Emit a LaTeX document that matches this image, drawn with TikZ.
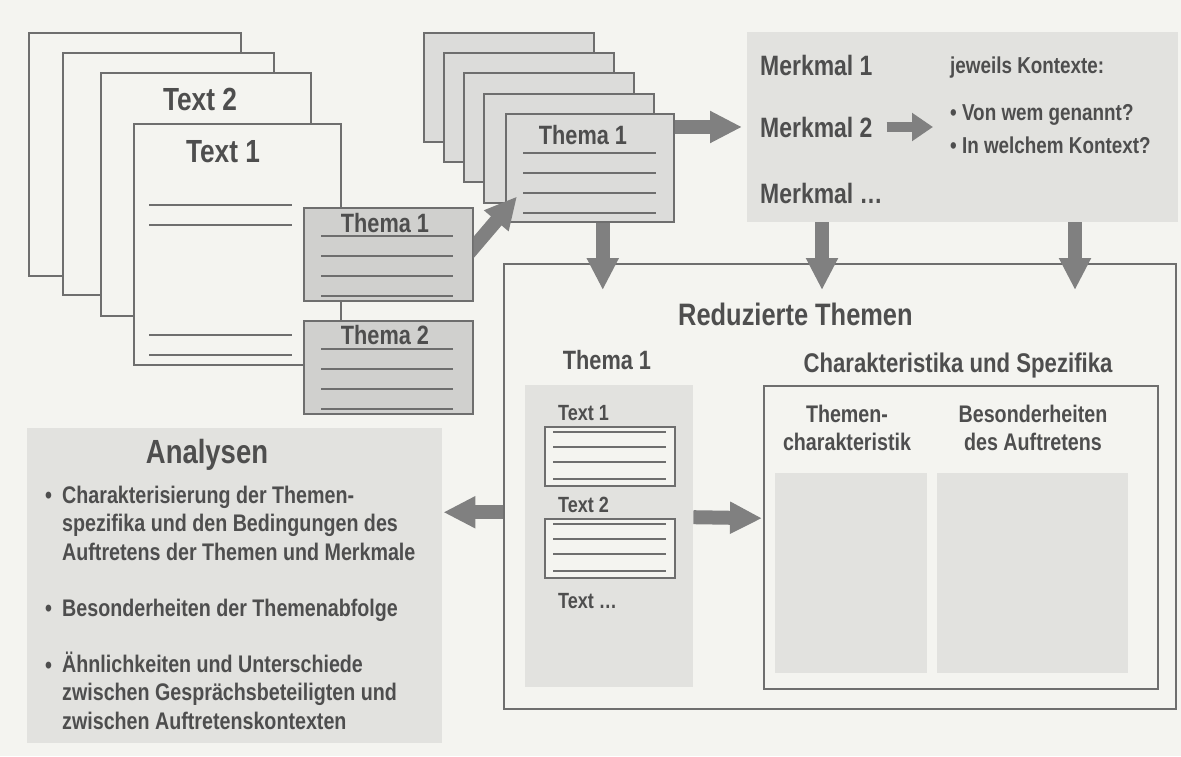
\documentclass[tikz,border=0pt]{standalone}
\usepackage{fontspec}
\setmainfont{Liberation Sans}[FakeStretch=0.82]
\usetikzlibrary{arrows.meta,positioning,calc}
\begin{document}
\begin{tikzpicture}[x=1pt, y=-1pt, every node/.style={inner sep=0pt, text=ink}]
	% Define colors
	\definecolor{paper}{RGB}{244,244,240}
	\definecolor{ink}{RGB}{78,78,78}
	\definecolor{edge}{RGB}{110,110,110}
	\definecolor{thema_bg}{RGB}{208,208,206}
	\definecolor{stack_bg}{RGB}{220,220,218}
	\definecolor{panel_bg}{RGB}{226,226,223}
	\definecolor{arrow_fg}{RGB}{128,128,128}

	% Styles
	\tikzstyle{page} = [draw=edge, line width=1.5pt, fill=paper, anchor=north west]
	\tikzstyle{thema_box} = [page, fill=thema_bg, minimum width=169pt, minimum height=93pt]
	\tikzstyle{stack_page} = [page, fill=stack_bg, minimum width=170pt, minimum height=109pt]
	\tikzstyle{text_box} = [page, minimum width=130pt, minimum height=59pt]
	\tikzstyle{panel} = [fill=panel_bg, anchor=north west]
	\tikzstyle{rule} = [draw=edge, line width=1.5pt]
	\tikzstyle{big_arrow} = [draw=arrow_fg, line width=14pt, -{Triangle[width=30pt,length=32pt]}]
	\tikzstyle{small_arrow} = [draw=arrow_fg, line width=10pt, -{Triangle[width=27pt,length=21pt]}]
	\tikzstyle{page_txt} = [font=\fontsize{32}{38}\selectfont\bfseries]
	\tikzstyle{title_txt} = [font=\fontsize{31}{36}\selectfont\bfseries]
	\tikzstyle{thema_txt} = [font=\fontsize{26.5}{32}\selectfont\bfseries]
	\tikzstyle{merk_txt} = [font=\fontsize{28}{33}\selectfont\bfseries, anchor=base west]
	\tikzstyle{ctx_txt} = [font=\fontsize{23}{28}\selectfont\bfseries, anchor=base west]
	\tikzstyle{small_txt} = [font=\fontsize{22}{28}\selectfont\bfseries, anchor=base west]
	\tikzstyle{head_txt} = [font=\fontsize{24}{28}\selectfont\bfseries, anchor=base, align=center]
	\tikzstyle{list_txt} = [font=\fontsize{24}{28.5}\selectfont\bfseries, anchor=base west, align=left]

	% Page size
	\useasboundingbox (0,0) rectangle (1181,756);
	\fill[paper] (0,0) rectangle (1181,756);

	% Source texts (left stack)
	\node[page, minimum width=212pt, minimum height=243pt] (pA) at (28,32) {};
	\node[page, minimum width=211pt, minimum height=242pt] (pB) at (62,52) {};
	\node[page, minimum width=210pt, minimum height=243pt] (pC) at (100,72) {};
	\node[page_txt, anchor=base] (lblC) at (200,110) {Text 2};
	\node[page, minimum width=207pt, minimum height=241pt] (pD) at (133,123) {};
	\node[page_txt, anchor=base] (lblD) at (223,162) {Text 1};
	\foreach \dy in {82,102,212,232}
		\draw[rule] ($(pD.north west)+(16,\dy)$) -- ++(143,0);

	% Theme stack (top middle)
	\node[stack_page] (st1) at (423,32) {};
	\node[stack_page] (st2) at (443,52) {};
	\node[stack_page] (st3) at (463,72) {};
	\node[stack_page] (st4) at (483,93) {};
	\node[stack_page, minimum width=168pt, minimum height=108pt] (st5) at (505,113) {};
	\node[thema_txt, anchor=base] (stT) at (583,144) {Thema 1};
	\foreach \dy in {40,60,80,100}
		\draw[rule] ($(st5.north west)+(18,\dy)$) -- ++(133,0);

	% Themes taken from Text 1
	\node[thema_box] (thA) at (303,207) {};
	\node[thema_txt, anchor=base] (thAT) at (385,232) {Thema 1};
	\node[thema_box] (thB) at (303,320) {};
	\node[thema_txt, anchor=base] (thBT) at (385,344) {Thema 2};
	\foreach \dy in {29,49,69,89} {
		\draw[rule] ($(thA.north west)+(18,\dy)$) -- ++(132,0);
		\draw[rule] ($(thB.north west)+(18,\dy)$) -- ++(132,0);
	}

	% Arrow into the stack
	\begin{scope}
		\clip (thA.south east) rectangle (st5.north east);
		\draw[big_arrow] ($(thA.east)+(-10,5)$) -- ($(st5.south west)+(12,-26)$);
	\end{scope}

	% Features and contexts
	\node[panel, minimum width=431pt, minimum height=190pt] (merk) at (747,32) {};
	\node[merk_txt] (m1) at (760,75) {Merkmal 1};
	\node[merk_txt] (m2) at (760,137) {Merkmal 2};
	\node[merk_txt] (m3) at (760,203) {Merkmal \dots};
	\node[ctx_txt] (kont) at (950,73) {jeweils Kontexte:};
	\node[ctx_txt] (q1) at (950,120) {\textbullet\ Von wem genannt?};
	\node[ctx_txt] (q2) at (950,153) {\textbullet\ In welchem Kontext?};
	\draw[big_arrow] (st5.east |- m2.west) -- ($(merk.west |- m2.west)+(-5,0)$);
	\draw[small_arrow] ($(m2.east)+(14,0)$) -- ($(kont.west |- m2.east)+(-17,0)$);

	% Reduced themes
	\node[page, fill=none, minimum width=672pt, minimum height=445pt] (red) at (503,263) {};
	\draw[big_arrow] ($(st5.south)+(13,0)$) -- ($(st5.south |- red.north)+(13,27)$);
	\draw[big_arrow] ($(merk.south west)+(75,0)$) -- ($(merk.south west |- red.north)+(75,27)$);
	\draw[big_arrow] ($(merk.south west)+(328,0)$) -- ($(merk.south west |- red.north)+(328,27)$);
	\node[title_txt, anchor=base west] (redT) at (678,325) {Reduzierte Themen};
	\node[thema_txt, anchor=base] (rth) at (607,369) {Thema 1};

	\node[panel, minimum width=168pt, minimum height=302pt] (tgray) at (525,385) {};
	\node[small_txt] (t1) at (558,420) {Text 1};
	\node[text_box] (tb1) at (544,426) {};
	\node[small_txt] (t2) at (558,512) {Text 2};
	\node[text_box] (tb2) at (544,518) {};
	\node[small_txt] (t3) at (558,608) {Text \dots};
	\foreach \dy in {6,21,36,53} {
		\draw[rule] ($(tb1.north west)+(9,\dy)$) -- ++(113,0);
		\draw[rule] ($(tb2.north west)+(9,\dy)$) -- ++(113,0);
	}

	\node[thema_txt, font=\fontsize{27}{31}\selectfont\bfseries, anchor=base] (charT) at (958,372) {Charakteristika und Spezifika};
	\node[page, fill=none, minimum width=394pt, minimum height=303pt] (inner) at (763,385) {};
	% multi-line nodes sit on their last baseline
	\node[head_txt] (chA) at (847,450) {Themen-\\charakteristik};
	\node[head_txt] (chB) at (1033,450) {Besonderheiten\\des Auftretens};
	\node[panel, minimum width=152pt, minimum height=200pt] (subA) at (775,473) {};
	\node[panel, minimum width=191pt, minimum height=200pt] (subB) at (937,473) {};
	\draw[big_arrow] ($(tgray.east)+(0,-19)$) -- ($(inner.west)+(-1,-19)$);

	% Analyses
	\node[panel, minimum width=415pt, minimum height=315pt] (ana) at (27,428) {};
	\node[title_txt, font=\fontsize{33.5}{38}\selectfont\bfseries, anchor=base] (anaT) at (207,463) {Analysen};
	\node[list_txt] (bA) at (45,503) {\textbullet};
	\node[list_txt] (iA) at (62,560) {Charakterisierung der Themen-\\spezifika und den Bedingungen des\\Auftretens der Themen und Merkmale};
	\node[list_txt] (bB) at (45,616) {\textbullet};
	\node[list_txt] (iB) at (62,616) {Besonderheiten der Themenabfolge};
	\node[list_txt] (bC) at (45,673) {\textbullet};
	\node[list_txt] (iC) at (62,729) {Ähnlichkeiten und Unterschiede\\zwischen Gesprächsbeteiligten und\\zwischen Auftretenskontexten};
	\draw[big_arrow] ($(red.west)+(0,26)$) -- ($(ana.east |- red.west)+(1,26)$);

\end{tikzpicture}
\end{document}
